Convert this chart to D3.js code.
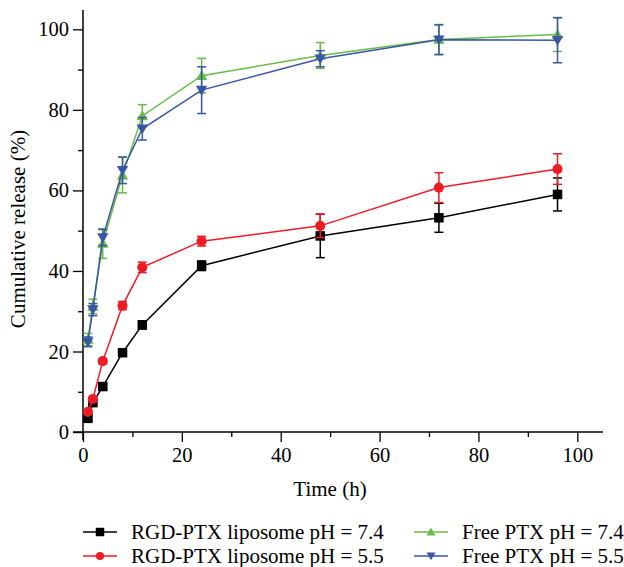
<!DOCTYPE html>
<html>
<head>
<meta charset="utf-8">
<script src="https://cdn.jsdelivr.net/npm/d3@7"></script>
<style>
  html, body { margin: 0; padding: 0; background: #fff; }
  svg { display: block; }
  text { font-family: "Liberation Serif", "DejaVu Serif", serif; fill: #000; }
</style>
</head>
<body>
<svg id="chart" width="624" height="567"></svg>
<script>
// ---- data ----
const times = [1, 2, 4, 8, 12, 24, 48, 72, 96];
const rgd74 = [3.4, 7.3, 11.3, 19.7, 26.6, 41.3, 48.7, 53.2, 59.0];
const rgd74Err = [0.5, 0.6, 0.6, 0.7, 1.0, 1.2, 5.4, 3.6, 4.1];
const rgd55 = [5.0, 8.2, 17.6, 31.4, 40.9, 47.4, 51.2, 60.7, 65.3];
const rgd55Err = [0.5, 0.6, 0.6, 1.0, 1.3, 1.2, 2.9, 3.7, 3.8];
const free74 = [23.0, 31.2, 46.8, 63.8, 78.5, 88.5, 93.5, 97.5, 98.7];
const free74Err = [1.5, 1.8, 3.7, 4.4, 2.8, 4.3, 3.2, 3.7, 4.2];
const free55 = [22.4, 30.4, 48.3, 65.0, 75.3, 84.9, 92.7, 97.4, 97.3];
const free55Err = [1.2, 1.5, 2.0, 3.3, 2.8, 5.8, 2.0, 3.7, 5.6];
const seriesNames = ["RGD-PTX liposome pH = 7.4", "RGD-PTX liposome pH = 5.5", "Free PTX pH = 7.4", "Free PTX pH = 5.5"];
const xMajorTicks = [0, 20, 40, 60, 80, 100];
const xMinorTicks = [10, 30, 50, 70, 90];
const yMajorTicks = [0, 20, 40, 60, 80, 100];
const yMinorTicks = [10, 30, 50, 70, 90];
const xLabel = "Time (h)";
const yLabel = "Cumulative release (%)";

const series = [
  { name: seriesNames[0], values: rgd74, err: rgd74Err, color: "#000000", shape: "square" },
  { name: seriesNames[1], values: rgd55, err: rgd55Err, color: "#ed1c24", shape: "circle" },
  { name: seriesNames[2], values: free74, err: free74Err, color: "#66bd45", shape: "up" },
  { name: seriesNames[3], values: free55, err: free55Err, color: "#3a55a4", shape: "down" }
];

const svg = d3.select("#chart");
const FS = 20.5;

// scales: axes cross at (0,0), both extend slightly past 0
const x = d3.scaleLinear().domain([-2, 105.2]).range([73.1, 603]);
const y = d3.scaleLinear().domain([-2, 104.8]).range([440.1, 10]);

// ---- axes ----
const axes = svg.append("g");
axes.append("line").attr("x1", x(-2)).attr("x2", x(105.2)).attr("y1", y(0)).attr("y2", y(0))
  .attr("stroke", "#000").attr("stroke-width", 1.5);
axes.append("line").attr("x1", x(0)).attr("x2", x(0)).attr("y1", y(-2)).attr("y2", y(104.8))
  .attr("stroke", "#000").attr("stroke-width", 1.5);

const xAxisMajor = d3.axisBottom(x).tickValues(xMajorTicks).tickSize(10).tickPadding(5).tickFormat(d3.format("d"));
const gx = svg.append("g").attr("transform", `translate(0,${y(0)})`).call(xAxisMajor);
gx.select(".domain").remove();
gx.selectAll(".tick line").attr("stroke", "#000").attr("stroke-width", 1.3);
gx.selectAll(".tick text").attr("font-size", FS).attr("font-family", "Liberation Serif");

const xAxisMinor = d3.axisBottom(x).tickValues(xMinorTicks).tickSize(5).tickFormat("");
const gx2 = svg.append("g").attr("transform", `translate(0,${y(0)})`).call(xAxisMinor);
gx2.select(".domain").remove();
gx2.selectAll(".tick line").attr("stroke", "#000").attr("stroke-width", 1.3);

const yAxisMajor = d3.axisLeft(y).tickValues(yMajorTicks).tickSize(10).tickPadding(4).tickFormat(d3.format("d"));
const gy = svg.append("g").attr("transform", `translate(${x(0)},0)`).call(yAxisMajor);
gy.select(".domain").remove();
gy.selectAll(".tick line").attr("stroke", "#000").attr("stroke-width", 1.3);
gy.selectAll(".tick text").attr("font-size", FS).attr("font-family", "Liberation Serif");

const yAxisMinor = d3.axisLeft(y).tickValues(yMinorTicks).tickSize(5).tickFormat("");
const gy2 = svg.append("g").attr("transform", `translate(${x(0)},0)`).call(yAxisMinor);
gy2.select(".domain").remove();
gy2.selectAll(".tick line").attr("stroke", "#000").attr("stroke-width", 1.3);

// axis titles
svg.append("text").attr("x", 330).attr("y", 496).attr("text-anchor", "middle")
  .attr("font-size", 21).text(xLabel);
svg.append("text").attr("transform", "translate(25,229) rotate(-90)").attr("text-anchor", "middle")
  .attr("font-size", 21).text(yLabel);

// ---- markers ----
function drawMarker(g, shape, cx, cy, color, s) {
  if (shape === "square") {
    g.append("rect").attr("x", cx - s / 2).attr("y", cy - s / 2).attr("width", s).attr("height", s).attr("fill", color);
  } else if (shape === "circle") {
    g.append("circle").attr("cx", cx).attr("cy", cy).attr("r", s / 2 + 0.3).attr("fill", color);
  } else {
    const sym = d3.symbol().type(d3.symbolTriangle).size(s * s * 0.62)();
    g.append("path").attr("d", sym)
      .attr("transform", `translate(${cx},${cy + (shape === "up" ? 1 : -1)}) rotate(${shape === "up" ? 0 : 180})`)
      .attr("fill", color);
  }
}

const line = d3.line().x(d => x(d.t)).y(d => y(d.v));

series.forEach(s => {
  const pts = times.map((t, i) => ({ t, v: s.values[i], e: s.err[i] }));
  const g = svg.append("g");
  g.append("path").datum(pts).attr("d", line).attr("fill", "none")
    .attr("stroke", s.color).attr("stroke-width", 1.5);
  // error bars
  pts.forEach(p => {
    const cx = x(p.t);
    g.append("line").attr("x1", cx).attr("x2", cx).attr("y1", y(p.v - p.e)).attr("y2", y(p.v + p.e))
      .attr("stroke", s.color).attr("stroke-width", 1.5);
    [p.v - p.e, p.v + p.e].forEach(v => {
      g.append("line").attr("x1", cx - 4.5).attr("x2", cx + 4.5).attr("y1", y(v)).attr("y2", y(v))
        .attr("stroke", s.color).attr("stroke-width", 1.5);
    });
  });
  pts.forEach(p => drawMarker(g, s.shape, x(p.t), y(p.v), s.color, 9.5));
});

// ---- legend ----
const legendPos = [
  { lx: 83, ty: 532 }, { lx: 83, ty: 556 },
  { lx: 414, ty: 532 }, { lx: 414, ty: 556 }
];
series.forEach((s, i) => {
  const p = legendPos[i];
  const g = svg.append("g");
  g.append("line").attr("x1", p.lx).attr("x2", p.lx + 34).attr("y1", p.ty).attr("y2", p.ty)
    .attr("stroke", s.color).attr("stroke-width", 1.5);
  drawMarker(g, s.shape, p.lx + 17, p.ty, s.color, s.shape === "square" ? 8.5 : 7.5);
  g.append("text").attr("x", p.lx + 48).attr("y", p.ty + 7).attr("font-size", 21).text(s.name);
});
</script>
</body>
</html>
